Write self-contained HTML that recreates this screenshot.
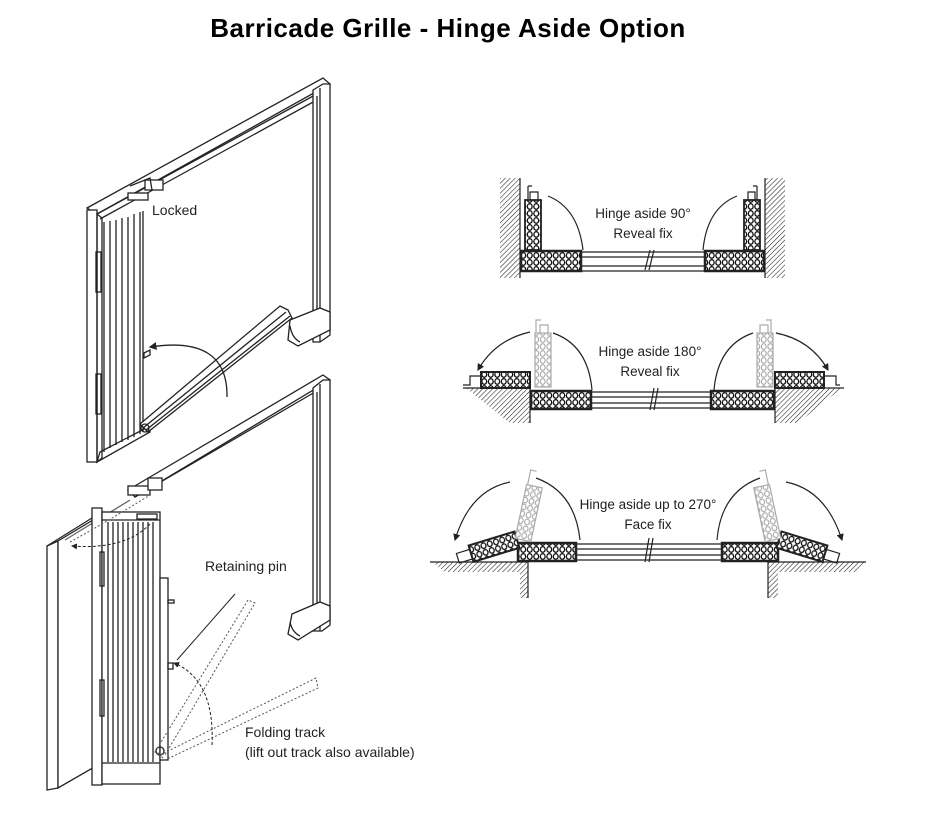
<!DOCTYPE html>
<html><head><meta charset="utf-8"><style>
html,body{margin:0;padding:0;background:#fff;}
svg{display:block;}
text{font-family:"Liberation Sans",sans-serif;fill:#222;}
</style></head><body>
<svg width="934" height="828" viewBox="0 0 934 828" xmlns="http://www.w3.org/2000/svg">
<defs>
<pattern id="pl" patternUnits="userSpaceOnUse" width="6.5" height="7">
<rect width="6.5" height="7" fill="#fff"/><ellipse cx="3.25" cy="3.5" rx="2.4" ry="2.8" fill="none" stroke="#111" stroke-width="1.3"/></pattern>
<pattern id="plg" patternUnits="userSpaceOnUse" width="6.5" height="7">
<rect width="6.5" height="7" fill="#fff"/><ellipse cx="3.25" cy="3.5" rx="2.4" ry="2.8" fill="none" stroke="#aaa" stroke-width="1.1"/></pattern>
<pattern id="ht" patternUnits="userSpaceOnUse" width="3.5" height="3.5" patternTransform="rotate(45)">
<rect width="3.5" height="3.5" fill="#fff"/><line x1="0" y1="0" x2="0" y2="3.5" stroke="#222" stroke-width="1.1"/></pattern>
<marker id="ar" markerWidth="6" markerHeight="6" refX="5" refY="3" orient="auto"><path d="M0,0 L6,3 L0,6 z" fill="#222"/></marker>
</defs>

<text x="448" y="37" text-anchor="middle" font-size="26" font-weight="bold" letter-spacing="0.5" style="fill:#000">Barricade Grille - Hinge Aside Option</text>

<!-- ========== TOP ISO DRAWING ========== -->
<g fill="none" stroke="#222" stroke-width="1.3">
<polygon points="87,208 323,78 330,84 97,214" fill="#fff"/>
<line x1="97" y1="214" x2="315" y2="95"/>
<line x1="100" y1="219" x2="315" y2="101"/>
<polygon points="313,90 323,84 330,84 330,335 320,342 313,342" fill="#fff"/>
<line x1="320" y1="88" x2="320" y2="342"/>
<line x1="317" y1="96" x2="317" y2="332"/>
<path d="M290,320 L320,308 L330,312 L330,330 L298,346 L288,340 Z" fill="#fff"/>
<path d="M290,326 Q292,338 300,342"/>
<rect x="87" y="210" width="10" height="252" fill="#fff"/>
<polygon points="97,214 102,218 102,458 97,462"/>
<rect x="96" y="252" width="5" height="40"/>
<rect x="96" y="374" width="5" height="40"/>
<path d="M104,222 L104,452 M110,221 L110,448 M116,220 L116,445 M122,218 L122,442 M128,217 L128,440 M134,214 L134,437 M140,212 L140,434 M143,211 L143,432"/>
<polygon points="97,462 150,432 150,426 100,452"/>
<rect x="128" y="193" width="20" height="7" fill="#fff"/>
<rect x="145" y="180" width="18" height="10" fill="#fff"/>
<path d="M130,186 L150,178 L152,190"/>
<polygon points="140,424 280,306 288,310 292,318 148,432" fill="#fff"/>
<line x1="143" y1="428" x2="286" y2="312"/>
<line x1="146" y1="430" x2="290" y2="316"/>
<circle cx="145" cy="428" r="4"/>
<path d="M227,397 Q228,335 150,347" marker-end="url(#ar)"/>
<path d="M144,353 L150,350 L150,355 L144,358 Z"/>
</g>
<text x="152" y="215" font-size="14">Locked</text>

<!-- ========== BOTTOM ISO DRAWING ========== -->
<g fill="none" stroke="#222" stroke-width="1.3">
<polygon points="47,546 58,541 58,788 47,790" fill="#fff"/>
<polygon points="58,541 103,514 103,762 58,788" fill="#fff"/>
<line x1="47" y1="546" x2="92" y2="518"/>
<polygon points="128,490 323,375 330,380 135,497" fill="#fff"/>
<line x1="135" y1="497" x2="315" y2="392"/>
<line x1="65" y1="540" x2="130" y2="500" stroke="#666"/>
<polygon points="313,388 323,380 330,380 330,625 322,631 313,631" fill="#fff"/>
<line x1="320" y1="384" x2="320" y2="631"/>
<line x1="317" y1="392" x2="317" y2="620"/>
<path d="M292,614 L320,602 L330,606 L330,620 L298,640 L288,634 Z" fill="#fff"/>
<path d="M290,622 Q292,632 300,636"/>
<rect x="128" y="486" width="22" height="9" fill="#fff"/>
<rect x="148" y="478" width="14" height="12" fill="#fff"/>
<rect x="92" y="508" width="10" height="277" fill="#fff"/>
<rect x="102" y="512" width="58" height="272" fill="#fff"/>
<line x1="102" y1="520" x2="160" y2="520"/>
<line x1="102" y1="763" x2="160" y2="763"/>
<path d="M108,522 V762 M113,522 V762 M118,522 V762 M123,522 V762 M128,522 V762 M133,522 V762 M138,522 V762 M143,522 V762 M148,522 V762 M153,522 V762"/>
<rect x="100" y="552" width="4" height="34"/>
<rect x="100" y="680" width="4" height="36"/>
<rect x="137" y="514" width="20" height="5" fill="#fff"/>
<rect x="160" y="578" width="8" height="182" fill="#fff"/>
<rect x="168" y="600" width="6" height="3"/>
<rect x="168" y="663" width="5" height="6"/>
<circle cx="160" cy="751" r="4"/>
<g stroke-dasharray="2,2" stroke="#555" stroke-width="1">
<polygon points="155,752 248,600 255,603 165,755"/>
<polygon points="160,755 316,678 318,688 165,760"/>
<path d="M70,542 Q110,520 150,495"/>
</g>
<path d="M212,745 Q215,680 174,663" stroke-dasharray="3,2" marker-end="url(#ar)" stroke-width="1"/>
<path d="M150,524 Q125,550 72,546" stroke-dasharray="3,2" marker-end="url(#ar)" stroke-width="1"/>
<line x1="235" y1="594" x2="177" y2="660" stroke-width="1"/>
</g>
<text x="205" y="571" font-size="14">Retaining pin</text>
<text x="245" y="737" font-size="14">Folding track</text>
<text x="245" y="757" font-size="14">(lift out track also available)</text>

<!-- ========== 90 deg ========== -->
<g fill="none" stroke="#222" stroke-width="1.2">
<rect x="500" y="178" width="20" height="100" fill="url(#ht)" stroke="none"/>
<line x1="520" y1="178" x2="520" y2="278"/>
<rect x="765" y="178" width="20" height="100" fill="url(#ht)" stroke="none"/>
<line x1="765" y1="178" x2="765" y2="278"/>
<rect x="521" y="251" width="60" height="20" fill="url(#pl)" stroke-width="2.5"/>
<rect x="705" y="251" width="59" height="20" fill="url(#pl)" stroke-width="2.5"/>
<path d="M581,252 H705 M581,257 H705 M581,266 H705 M581,271 H705"/>
<path d="M645,270 L650,250 M649,270 L654,250"/>
<rect x="525" y="200" width="16" height="50" fill="url(#pl)" stroke-width="1.8"/>
<path d="M528,200 V186 M528,186 H532 M530,200 V192 H538 V200"/>
<rect x="744" y="200" width="16" height="50" fill="url(#pl)" stroke-width="1.8"/>
<path d="M757,200 V186 M757,186 H753 M748,200 V192 H755 V200"/>
<path d="M548,196 Q578,208 583,250"/>
<path d="M737,196 Q707,208 703,250"/>
</g>
<text x="643" y="218" font-size="13.5" text-anchor="middle">Hinge aside 90°</text>
<text x="643" y="238" font-size="13.5" text-anchor="middle">Reveal fix</text>

<!-- ========== 180 deg ========== -->
<g fill="none" stroke="#222" stroke-width="1.2">
<polygon points="466,388 530,388 530,423 510,423" fill="url(#ht)" stroke="none"/>
<path d="M463,388 H530 V423"/>
<polygon points="775,388 842,388 798,423 775,423" fill="url(#ht)" stroke="none"/>
<path d="M844,388 H775 V423"/>
<rect x="481" y="372" width="49" height="16" fill="url(#pl)" stroke-width="2"/>
<path d="M481,376 H470 V385 H463"/>
<rect x="775" y="372" width="49" height="16" fill="url(#pl)" stroke-width="2"/>
<path d="M824,376 H836 V385 H840"/>
<rect x="531" y="391" width="60" height="18" fill="url(#pl)" stroke-width="2.5"/>
<rect x="711" y="391" width="63" height="18" fill="url(#pl)" stroke-width="2.5"/>
<path d="M591,392 H711 M591,397 H711 M591,403 H711 M591,408 H711"/>
<path d="M650,410 L654,388 M654,410 L658,388"/>
<g stroke="#aaa">
<rect x="535" y="333" width="16" height="54" fill="url(#plg)"/>
<path d="M536,333 V320 H541 M540,333 V325 H548 V333"/>
<rect x="757" y="333" width="16" height="54" fill="url(#plg)"/>
<path d="M771,333 V320 H766 M760,333 V325 H768 V333"/>
</g>
<path d="M530,332 Q495,340 478,370" marker-end="url(#ar)"/>
<path d="M553,333 Q588,345 592,390"/>
<path d="M776,333 Q811,340 828,370" marker-end="url(#ar)"/>
<path d="M753,333 Q718,345 714,390"/>
</g>
<text x="650" y="356" font-size="13.5" text-anchor="middle">Hinge aside 180°</text>
<text x="650" y="376" font-size="13.5" text-anchor="middle">Reveal fix</text>

<!-- ========== 270 deg ========== -->
<g fill="none" stroke="#222" stroke-width="1.2">
<polygon points="432,562 528,562 528,598 520,598 520,572 445,572" fill="url(#ht)" stroke="none"/>
<path d="M430,562 H528 V598"/>
<polygon points="768,562 865,562 855,572 778,572 778,598 768,598" fill="url(#ht)" stroke="none"/>
<path d="M866,562 H768 V598"/>
<rect x="518" y="543" width="58" height="18" fill="url(#pl)" stroke-width="2.5"/>
<rect x="722" y="543" width="56" height="18" fill="url(#pl)" stroke-width="2.5"/>
<path d="M576,544 H722 M576,549 H722 M576,555 H722 M576,560 H722"/>
<path d="M645,562 L649,538 M649,562 L653,538"/>
<g transform="rotate(-17 518 543)">
<rect x="470" y="531" width="48" height="17" fill="url(#pl)" stroke-width="2"/>
<rect x="456" y="535" width="14" height="10"/>
</g>
<g transform="rotate(17 778 543)">
<rect x="778" y="531" width="48" height="17" fill="url(#pl)" stroke-width="2"/>
<rect x="826" y="535" width="14" height="10"/>
</g>
<g stroke="#aaa">
<g transform="rotate(12 523 540)"><rect x="515" y="485" width="16" height="55" fill="url(#plg)"/><path d="M516,485 V470 H522"/></g>
<g transform="rotate(-12 773 540)"><rect x="765" y="485" width="16" height="55" fill="url(#plg)"/><path d="M780,485 V470 H774"/></g>
</g>
<path d="M510,482 Q470,490 455,540" marker-end="url(#ar)"/>
<path d="M536,478 Q575,492 580,540"/>
<path d="M786,482 Q826,490 842,540" marker-end="url(#ar)"/>
<path d="M760,478 Q721,492 717,540"/>
</g>
<text x="648" y="509" font-size="13.5" text-anchor="middle">Hinge aside up to 270°</text>
<text x="648" y="529" font-size="13.5" text-anchor="middle">Face fix</text>
</svg>
</body></html>
